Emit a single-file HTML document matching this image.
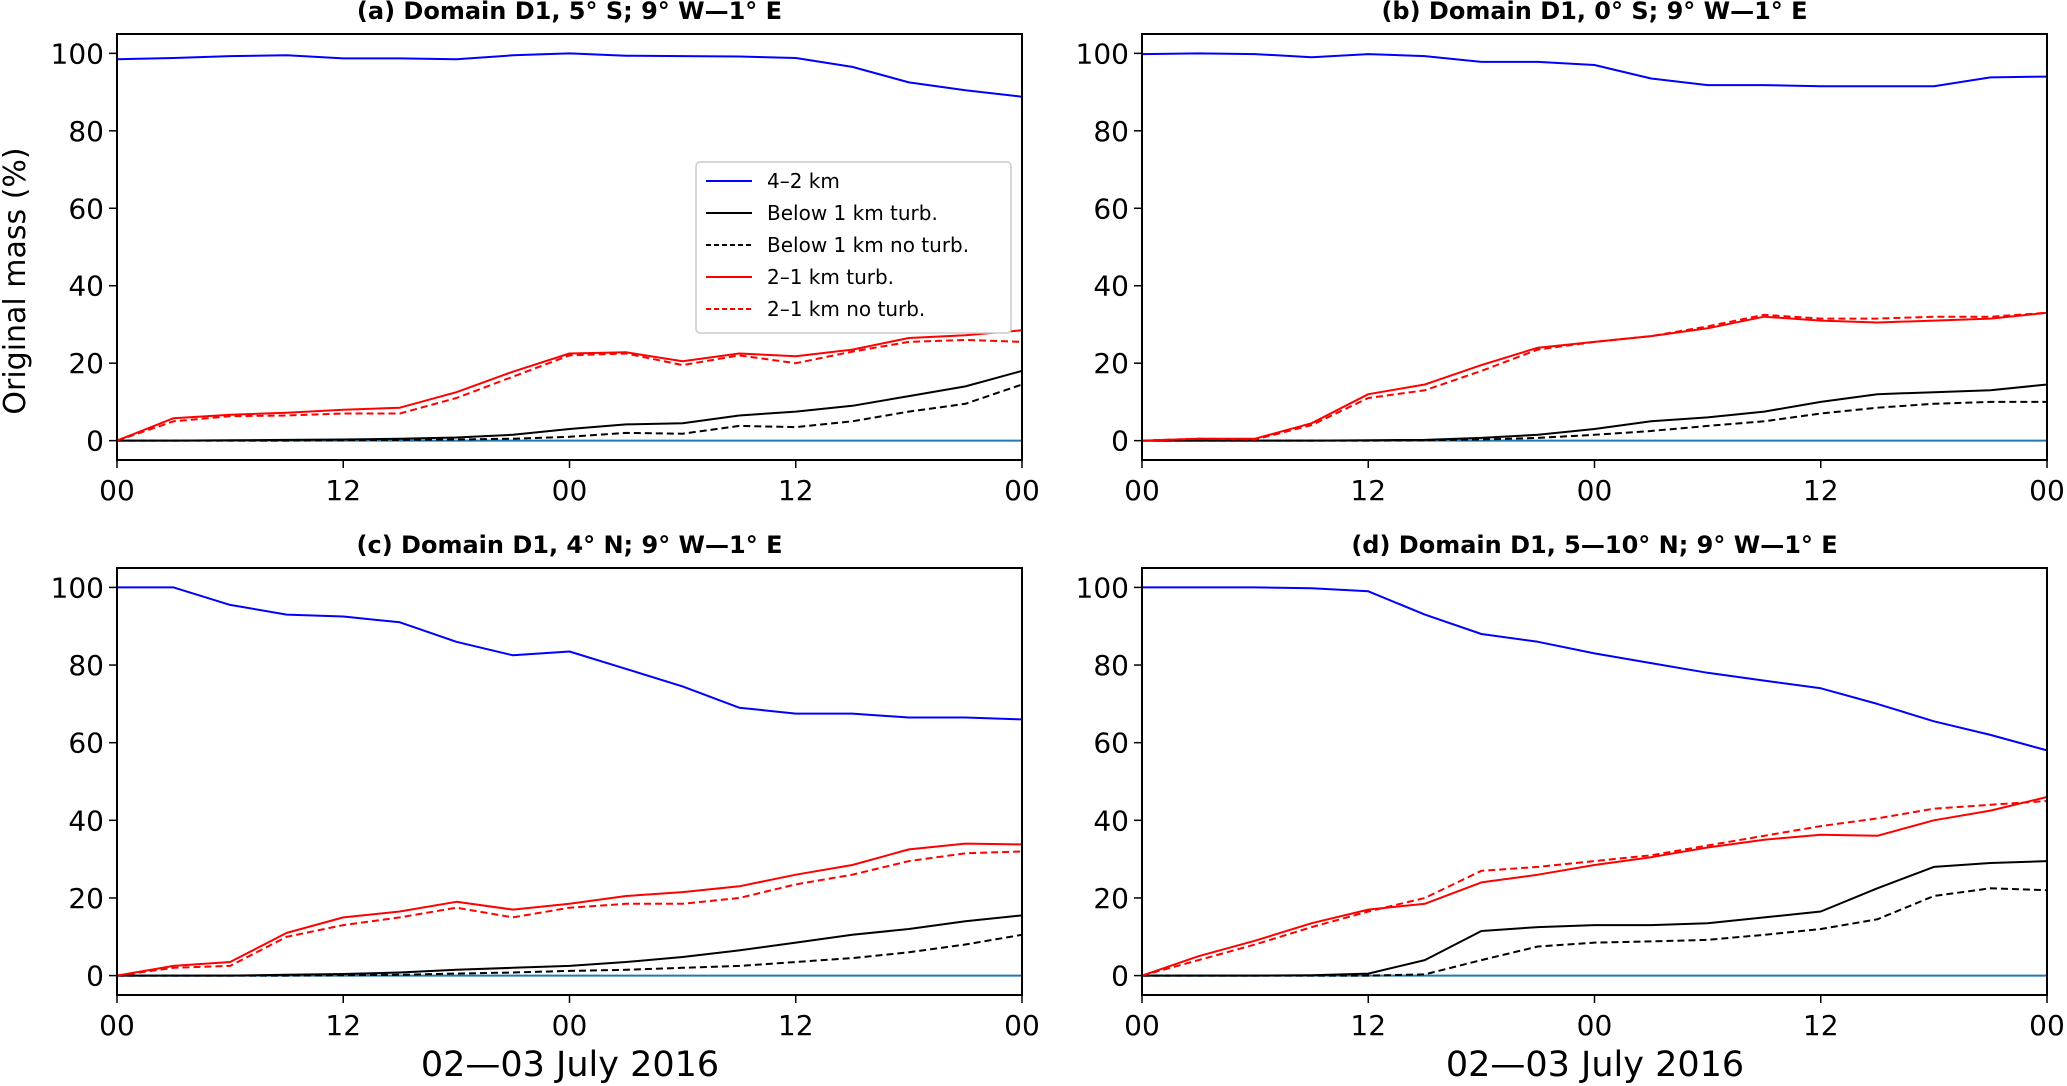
<!DOCTYPE html>
<html><head><meta charset="utf-8">
<style>
html,body{margin:0;padding:0;background:#fff;}
svg{display:block;font-family:"DejaVu Sans","Liberation Sans",sans-serif;}
</style></head>
<body>
<svg id="fig" width="2067" height="1086" viewBox="0 0 2067 1086" xmlns="http://www.w3.org/2000/svg"></svg>
<script>
const hours = [0,3,6,9,12,15,18,21,24,27,30,33,36,39,42,45,48];
const xTickHours = [0,12,24,36,48];
const xTickLabels = ["00","12","00","12","00"];
const yTicks = [0,20,40,60,80,100];
const titles = ["(a) Domain D1, 5\u00b0 S; 9\u00b0 W\u20141\u00b0 E","(b) Domain D1, 0\u00b0 S; 9\u00b0 W\u20141\u00b0 E","(c) Domain D1, 4\u00b0 N; 9\u00b0 W\u20141\u00b0 E","(d) Domain D1, 5\u201410\u00b0 N; 9\u00b0 W\u20141\u00b0 E"];
const seriesNames = ["4\u20132 km","Below 1 km turb.","Below 1 km no turb.","2\u20131 km turb.","2\u20131 km no turb."];

const blueA = [98.5,98.8,99.3,99.5,98.7,98.7,98.5,99.5,100,99.4,99.3,99.2,98.8,96.5,92.5,90.5,88.8];
const redA = [0,5.8,6.7,7.2,8,8.5,12.5,17.8,22.5,22.8,20.5,22.5,21.8,23.5,26.5,27.2,28.5];
const redDashA = [0,5,6.3,6.5,7,7,11,16.5,22,22.5,19.5,22,20,23,25.5,26,25.5];
const blackA = [0,0,0.1,0.2,0.3,0.5,0.8,1.5,3,4.2,4.5,6.5,7.5,9,11.5,14,18];
const blackDashA = [0,0,0,0,0.1,0.2,0.3,0.5,1,2,1.8,3.8,3.5,5,7.5,9.5,14.5];

const blueB = [99.8,100,99.8,99,99.8,99.3,97.8,97.8,97,93.5,91.8,91.8,91.5,91.5,91.5,93.8,94];
const redB = [0,0.5,0.5,4.5,12,14.5,19.5,24,25.5,27,29,32,31,30.5,31,31.5,33];
const redDashB = [0,0.5,0.3,4,11,13,18,23.5,25.5,27,29.5,32.5,31.5,31.5,32,32,33];
const blackB = [0,0,0,0,0.1,0.2,0.7,1.5,3,5,6,7.5,10,12,12.5,13,14.5];
const blackDashB = [0,0,0,0,0,0.1,0.3,0.7,1.5,2.5,3.8,5,7,8.5,9.5,10,10];

const blueC = [100,100,95.5,93,92.5,91,86,82.5,83.5,79,74.5,69,67.5,67.5,66.5,66.5,66];
const redC = [0,2.5,3.5,11,15,16.5,19,17,18.5,20.5,21.5,23,26,28.5,32.5,34,33.8];
const redDashC = [0,2,2.5,10,13,15,17.5,15,17.5,18.5,18.5,20,23.5,26,29.5,31.5,32];
const blackC = [0,0,0,0.2,0.4,0.8,1.5,2,2.5,3.5,4.8,6.5,8.5,10.5,12,14,15.5];
const blackDashC = [0,0,0,0,0.1,0.2,0.5,0.8,1.2,1.5,2,2.5,3.5,4.5,6,8,10.5];

const blueD = [100,100,100,99.8,99,93,88,86,83,80.5,78,76,74,70,65.5,62,58];
const redD = [0,5,9,13.5,17,18.5,24,26,28.5,30.5,33,35,36.3,36,40,42.5,46];
const redDashD = [0,4,8,12.5,16.5,20,27,28,29.5,31,33.5,36,38.5,40.5,43,44,45];
const blackD = [0,0,0,0.1,0.5,4,11.5,12.5,13,13,13.5,15,16.5,22.5,28,29,29.5];
const blackDashD = [0,0,0,0,0,0.3,4,7.5,8.5,8.8,9.2,10.5,12,14.5,20.5,22.5,22];

const panelsData = [
  [blueA,blackA,blackDashA,redA,redDashA],
  [blueB,blackB,blackDashB,redB,redDashB],
  [blueC,blackC,blackDashC,redC,redDashC],
  [blueD,blackD,blackDashD,redD,redDashD]
];
const colors = ["#0000ff","#000","#000","#ff0000","#ff0000"];
const dashes = [null,null,"7,4",null,"7,4"];
const keys = ["blue-4-2km","black-below1-turb","black-below1-noturb","red-2-1km-turb","red-2-1km-noturb"];
const boxes = [[117,34,1022,460],[1142,34,2047,460],[117,568,1022,995],[1142,568,2047,995]];
const NS="http://www.w3.org/2000/svg";
const svg=document.getElementById('fig');
function mk(tag,attrs,parent){const e=document.createElementNS(NS,tag);for(const k in attrs)e.setAttribute(k,attrs[k]);(parent||svg).appendChild(e);return e;}
const letters=['a','b','c','d'];
boxes.forEach((b,pi)=>{
  const [x0,y0,x1,y1]=b;
  const g=mk('g',{});
  
  
  const sx=h=>x0+(h/48)*(x1-x0);
  const sy=v=>y1-((v+5)/110)*(y1-y0);
  const t=mk('text',{x:(x0+x1)/2,y:y0-15,'text-anchor':'middle','font-size':24,'font-weight':'bold'},g);
  t.textContent=titles[pi];
  
  
  yTicks.forEach(v=>{
    mk('line',{x1:x0-8,x2:x0,y1:sy(v),y2:sy(v),stroke:'#000','stroke-width':1.5},g);
    const tl=mk('text',{x:x0-13,y:sy(v)+10,'text-anchor':'end','font-size':28},g);
    tl.textContent=v;
    
    
  });
  xTickHours.forEach((h,i)=>{
    mk('line',{x1:sx(h),x2:sx(h),y1:y1,y2:y1+8,stroke:'#000','stroke-width':1.5},g);
    const tl=mk('text',{x:sx(h),y:y1+40,'text-anchor':'middle','font-size':28},g);
    tl.textContent=xTickLabels[i];
    
    
  });
  const zl=mk('line',{x1:x0,x2:x1,y1:sy(0),y2:sy(0),stroke:'#1f77b4','stroke-width':2},g);
  
  
  const order=[1,2,3,4,0];
  order.forEach(si=>{
    const vals=panelsData[pi][si];
    const pts=hours.map((h,i)=>sx(h).toFixed(1)+','+sy(vals[i]).toFixed(1)).join(' ');
    const a={points:pts,fill:'none',stroke:colors[si],'stroke-width':2,'stroke-linejoin':'round'};
    if(dashes[si])a['stroke-dasharray']=dashes[si];
    const pl=mk('polyline',a,g);
    
    
  });
  const fr=mk('rect',{x:x0,y:y0,width:x1-x0,height:y1-y0,fill:'none',stroke:'#000','stroke-width':2},g);
  
  
});
const yl=mk('text',{x:0,y:0,'text-anchor':'middle','font-size':30,transform:'translate(25,281) rotate(-90)'});
yl.textContent='Original mass (%)';


[[570,'x-axis-title-c'],[1595,'x-axis-title-d']].forEach(([cx,n])=>{
  const xl=mk('text',{x:cx,y:1076,'text-anchor':'middle','font-size':35});
  xl.textContent='02\u201403 July 2016';
  
  
});
const lg=mk('g',{});


mk('rect',{x:696,y:162,width:315,height:171,rx:4,fill:'#fff',stroke:'#ccc','stroke-width':1.5},lg);
seriesNames.forEach((nm,i)=>{
  const y=181+i*32;
  const a={x1:706,x2:752,y1:y,y2:y,stroke:colors[i],'stroke-width':2};
  if(dashes[i])a['stroke-dasharray']='5,3';
  mk('line',a,lg);
  const tx=mk('text',{x:767,y:y+7,'font-size':20},lg);
  tx.textContent=nm;
  
  
});
</script>
</body></html>
